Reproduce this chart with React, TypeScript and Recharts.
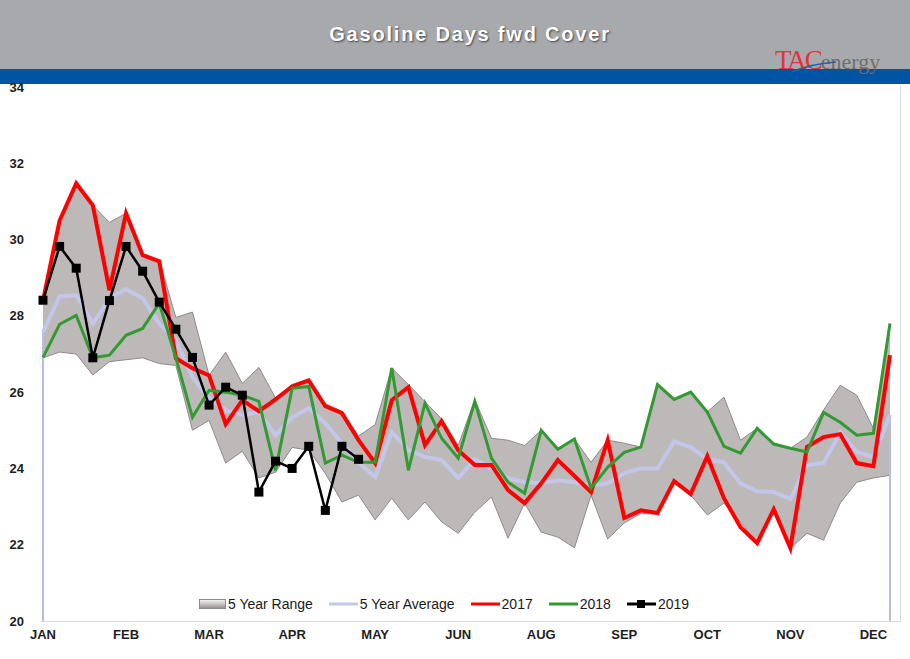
import React from 'react';
import { ComposedChart, Area, Line, XAxis, YAxis, ReferenceLine } from 'recharts';

const MONTHS = ['JAN', 'FEB', 'MAR', 'APR', 'MAY', 'JUN', 'AUG', 'SEP', 'OCT', 'NOV', 'DEC'];
const Y_TICKS = [20, 22, 24, 26, 28, 30, 32, 34];

const RANGE_HIGH = [28.4, 30.5, 31.47, 30.9, 30.45, 30.69, 29.64, 29.46, 27.96, 28.1, 26.44, 27.05, 26.23, 26.65, 25.85, 26.2, 26.35, 25.7, 25.5, 24.85, 25.15, 26.63, 26.2, 25.75, 25.3, 24.6, 25.8, 24.79, 24.74, 24.6, 25.0, 24.5, 24.77, 24.16, 24.74, 24.66, 24.56, 26.2, 25.81, 26.0, 25.48, 25.87, 24.74, 25.05, 24.66, 24.53, 24.82, 25.53, 26.18, 25.92, 25.05, 27.8];
const RANGE_LOW = [26.9, 27.05, 27.0, 26.45, 26.8, 26.85, 26.9, 26.75, 26.7, 25.0, 25.26, 24.14, 24.45, 23.75, 23.9, 24.55, 24.48, 23.87, 23.12, 23.3, 22.65, 23.22, 22.65, 23.12, 22.6, 22.3, 22.85, 23.25, 22.17, 23.09, 22.33, 22.2, 21.92, 23.3, 22.15, 22.57, 22.82, 22.8, 23.6, 23.3, 22.78, 23.09, 22.6, 22.04, 22.96, 21.9, 22.3, 22.12, 23.09, 23.64, 23.75, 23.82];
const AVG_5Y = [27.57, 28.51, 28.54, 27.8, 28.46, 28.7, 28.46, 27.8, 27.36, 26.39, 25.84, 25.53, 25.4, 25.47, 24.87, 25.34, 25.58, 25.18, 24.66, 24.16, 23.77, 24.95, 24.48, 24.3, 24.22, 23.75, 24.24, 24.0, 23.75, 23.64, 23.61, 23.69, 23.64, 23.54, 23.61, 23.88, 24.0, 24.0, 24.71, 24.56, 24.24, 24.16, 23.61, 23.4, 23.38, 23.2, 24.09, 24.14, 24.95, 24.43, 24.3, 25.4];
const Y2017 = [28.4, 30.5, 31.47, 30.9, 28.67, 30.69, 29.59, 29.43, 26.89, 26.63, 26.44, 25.16, 25.79, 25.5, 25.81, 26.15, 26.31, 25.63, 25.45, 24.74, 24.14, 25.79, 26.13, 24.61, 25.24, 24.48, 24.09, 24.09, 23.43, 23.09, 23.61, 24.22, 23.8, 23.38, 24.74, 22.7, 22.9, 22.83, 23.67, 23.33, 24.32, 23.22, 22.46, 22.04, 22.93, 21.91, 24.56, 24.82, 24.9, 24.14, 24.06, 26.97];
const Y2018 = [26.91, 27.78, 28.01, 26.9, 26.97, 27.49, 27.67, 28.33, 26.9, 25.34, 26.05, 26.0, 25.92, 25.76, 23.95, 26.1, 26.15, 24.14, 24.35, 24.16, 24.16, 26.63, 23.95, 25.71, 24.79, 24.27, 25.76, 24.27, 23.64, 23.35, 25.0, 24.5, 24.77, 23.48, 24.03, 24.42, 24.56, 26.2, 25.81, 26.0, 25.48, 24.58, 24.4, 25.05, 24.64, 24.53, 24.43, 25.47, 25.21, 24.87, 24.92, 27.8];
const Y2019 = [28.41, 29.82, 29.25, 26.9, 28.4, 29.82, 29.17, 28.36, 27.65, 26.91, 25.66, 26.13, 25.92, 23.38, 24.19, 24.0, 24.58, 22.9, 24.58, 24.24];

const WEEKS_PER_LABEL = 5;

// week numbers start at 1
const data = RANGE_HIGH.map((h, i) => ({
  wk: i + 1,
  range: [RANGE_LOW[i], h],
  avg: AVG_5Y[i],
  y2017: Y2017[i],
  y2018: Y2018[i],
  y2019: i < Y2019.length ? Y2019[i] : null,
}));

const FIRST = data[0].wk;
const LAST = data[data.length - 1].wk;

const tickLabel = (v: number) => ((v - 1) % WEEKS_PER_LABEL === 0 ? MONTHS[(v - 1) / WEEKS_PER_LABEL] ?? '' : '');

const axisFont = {
  fontFamily: '"Liberation Sans Narrow", "Arial Narrow", "Liberation Sans", Arial, sans-serif',
  fontWeight: 700,
  fontSize: 13,
  fill: '#1e1e1e',
};

const SquareDot = (props: any) => {
  const { cx, cy, index } = props;
  if (cx == null || cy == null || props.value == null) return <g key={`d${index}`} />;
  return <rect key={`d${index}`} x={cx - 4.5} y={cy - 4.5} width={9} height={9} fill="#000" />;
};

const LegendItem = ({ icon, label, gap }: { icon: React.ReactNode; label: string; gap: number }) => (
  <div style={{ display: 'flex', alignItems: 'center', marginRight: gap }}>
    {icon}
    <span style={{ marginLeft: 2 }}>{label}</span>
  </div>
);

const lineIcon = (color: string, marker = false) => (
  <svg width={29} height={10} style={{ display: 'block' }}>
    <line x1={0} y1={5} x2={29} y2={5} stroke={color} strokeWidth={3} />
    {marker && <rect x={10} y={1} width={8} height={8} fill={color} />}
  </svg>
);

export default function App() {
  return (
    <div style={{ position: 'absolute', left: 0, top: 0, width: 910, height: 659, background: '#fff', overflow: 'hidden' }}>
      <div style={{ position: 'absolute', left: 0, top: 0, width: 910, height: 69, background: '#a7a9ac' }} />
      <div style={{ position: 'absolute', left: 0, top: 69, width: 910, height: 15, background: '#0054a4' }} />
      <div
        style={{
          position: 'absolute',
          left: 0,
          top: 23,
          width: 940,
          textAlign: 'center',
          color: '#fff',
          fontFamily: '"Liberation Sans", Arial, sans-serif',
          fontWeight: 700,
          fontSize: 20,
          letterSpacing: 1.8,
          textShadow: '1px 1px 2px rgba(0,0,0,0.6)',
        }}
      >
        Gasoline Days fwd Cover
      </div>
      <div style={{ position: 'absolute', left: 775, top: 45, fontFamily: '"Liberation Serif", "Times New Roman", serif', whiteSpace: 'nowrap' }}>
        <span style={{ color: '#e2343a', fontSize: 27, letterSpacing: -2 }}>TAC</span>
        <span style={{ color: '#6d6e70', fontSize: 22 }}>energy</span>
      </div>
      <svg width={60} height={30} style={{ position: 'absolute', left: 790, top: 50 }}>
        <path d="M2 22 Q 20 14 46 12" stroke="#1f5fb0" strokeWidth={1.6} fill="none" />
      </svg>
      {/* plot frame */}
      <div style={{ position: 'absolute', left: 41, top: 621, width: 860, height: 1, background: '#d9d9d9' }} />
      <div style={{ position: 'absolute', left: 900, top: 86, width: 1, height: 536, background: '#d9d9d9' }} />
      <div style={{ position: 'absolute', left: 0, top: 0 }}>
        <ComposedChart width={910} height={659} data={data} margin={{ top: 87, right: 20, bottom: 0, left: 0 }}>
          <XAxis
            dataKey="wk"
            type="category"
            scale="point"
            padding={{ left: 0, right: 0 }}
            interval={WEEKS_PER_LABEL - 1}
            tickFormatter={tickLabel}
            tick={axisFont}
            tickSize={0}
            tickMargin={9}
            axisLine={false}
            tickLine={false}
            height={38}
          />
          <YAxis
            domain={[20, 34]}
            ticks={Y_TICKS}
            type="number"
            tick={axisFont}
            tickSize={0}
            tickMargin={19}
            axisLine={false}
            tickLine={false}
            width={43}
            interval={0}
          />
          <Area
            dataKey="range"
            type="linear"
            fill="#bdb9b8"
            fillOpacity={1}
            stroke="#8f8b8a"
            strokeWidth={1}
            isAnimationActive={false}
            activeDot={false}
          />
          <ReferenceLine segment={[{ x: FIRST, y: 20 }, { x: FIRST, y: AVG_5Y[0] }]} stroke="#b9bce2" strokeWidth={2} ifOverflow="visible" />
          <ReferenceLine segment={[{ x: LAST, y: 20 }, { x: LAST, y: AVG_5Y[AVG_5Y.length - 1] }]} stroke="#b9bce2" strokeWidth={2} ifOverflow="visible" />
          <Line dataKey="avg" type="linear" stroke="#c3c6e8" strokeWidth={4} dot={false} isAnimationActive={false} />
          <Line dataKey="y2017" type="linear" stroke="#ff0000" strokeWidth={4} dot={false} isAnimationActive={false} />
          <Line dataKey="y2018" type="linear" stroke="#339933" strokeWidth={3} dot={false} isAnimationActive={false} />
          <Line dataKey="y2019" type="linear" stroke="#000" strokeWidth={2.5} dot={SquareDot} isAnimationActive={false} connectNulls={false} />
        </ComposedChart>
      </div>
      <div
        style={{
          position: 'absolute',
          left: 199,
          top: 596,
          display: 'flex',
          alignItems: 'center',
          fontFamily: '"Liberation Sans", Arial, sans-serif',
          fontSize: 14,
          color: '#1a1a1a',
          whiteSpace: 'nowrap',
        }}
      >
        <LegendItem
          gap={16}
          label="5 Year Range"
          icon={
            <svg width={27} height={10} style={{ display: 'block' }}>
              <defs>
                <linearGradient id="lgR" x1="0" y1="0" x2="0" y2="1">
                  <stop offset="0" stopColor="#f4f4f4" />
                  <stop offset="0.5" stopColor="#c8c4c3" />
                  <stop offset="1" stopColor="#8f8b8a" />
                </linearGradient>
              </defs>
              <rect x={0.5} y={0.5} width={26} height={9} fill="url(#lgR)" stroke="#8f8b8a" />
            </svg>
          }
        />
        <LegendItem gap={16} label="5 Year Average" icon={lineIcon('#c3c6e8')} />
        <LegendItem gap={16} label="2017" icon={lineIcon('#ff0000')} />
        <LegendItem gap={16} label="2018" icon={lineIcon('#339933')} />
        <LegendItem gap={0} label="2019" icon={lineIcon('#000', true)} />
      </div>
    </div>
  );
}
